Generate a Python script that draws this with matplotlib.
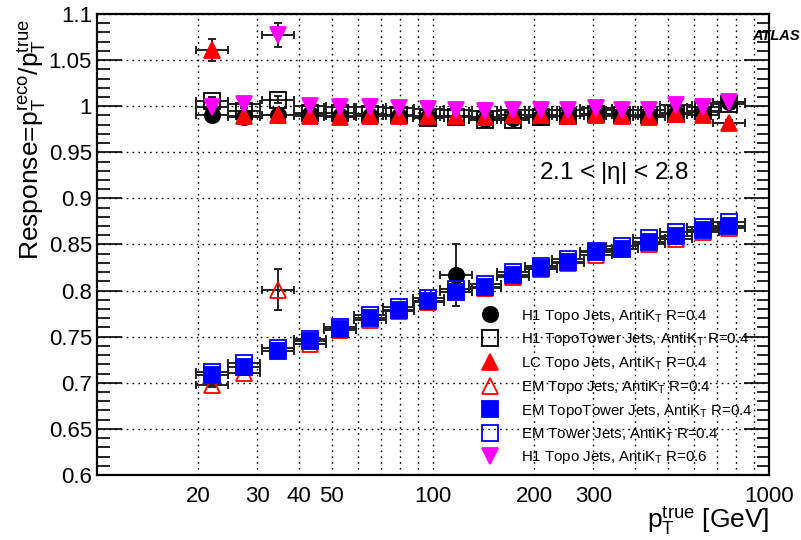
import numpy as np
import matplotlib
matplotlib.use("Agg")
import matplotlib.pyplot as plt
from matplotlib.lines import Line2D
from matplotlib.ticker import FixedLocator, NullFormatter, MultipleLocator

plt.rcParams['font.family'] = ['Liberation Sans', 'DejaVu Sans']
plt.rcParams['mathtext.fontset'] = 'custom'
plt.rcParams['mathtext.rm'] = 'Liberation Sans'
plt.rcParams['mathtext.it'] = 'Liberation Sans:italic'

# bin centres in pT^true [GeV]
pt = [22, 27.4, 34.6, 43, 53, 65, 79, 97, 117, 143, 173, 210, 252, 306, 365, 440, 529, 636, 760]
bin_ratio = 1.115  # half bin width, multiplicative

h1_topo_04 = [0.990, 0.988, 0.990, 0.991, 0.989, 0.989, 0.989, 0.988, 0.817, 0.986,
              0.987, 0.988, 0.989, 0.991, 0.990, 0.990, 0.993, 0.994, 1.004]
h1_topo_04_err = [0.003, 0.003, 0.003, 0.002, 0.002, 0.002, 0.002, 0.002, 0.034, 0.002,
                  0.002, 0.002, 0.002, 0.002, 0.002, 0.002, 0.002, 0.002, 0.004]

h1_tt_04 = [1.006, 0.995, 1.007, 0.993, 0.993, 0.992, 0.990, 0.987, 0.988, 0.985,
            0.985, 0.988, 0.989, 0.991, 0.990, 0.990, 0.992, 0.995, 1.002]
h1_tt_04_err = [0.004, 0.003, 0.004, 0.002, 0.002, 0.002, 0.002, 0.002, 0.002, 0.002,
                0.002, 0.002, 0.002, 0.002, 0.002, 0.002, 0.002, 0.002, 0.003]

lc_topo_04 = [1.061, 0.989, 0.990, 0.989, 0.988, 0.989, 0.989, 0.989, 0.989, 0.988,
              0.990, 0.990, 0.989, 0.990, 0.989, 0.988, 0.991, 0.990, 0.982]
lc_topo_04_err = [0.012, 0.003, 0.003, 0.002, 0.002, 0.002, 0.002, 0.002, 0.002, 0.002,
                  0.002, 0.002, 0.002, 0.002, 0.002, 0.002, 0.002, 0.002, 0.003]

em_topo_04 = [0.698, 0.711, 0.801, 0.742, 0.757, 0.768, 0.778, 0.788, 0.799, 0.803,
              0.815, 0.823, 0.830, 0.839, 0.845, 0.851, 0.856, 0.864, 0.868]
em_topo_04_err = [0.003, 0.003, 0.022, 0.002, 0.002, 0.002, 0.002, 0.002, 0.002, 0.002,
                  0.002, 0.002, 0.002, 0.002, 0.002, 0.002, 0.002, 0.002, 0.002]

em_tt_04 = [0.708, 0.717, 0.734, 0.745, 0.758, 0.770, 0.779, 0.789, 0.799, 0.804,
            0.817, 0.824, 0.831, 0.842, 0.845, 0.853, 0.859, 0.866, 0.870]
em_tt_04_err = [0.003] * 3 + [0.002] * 16

em_tower_04 = [0.712, 0.721, 0.738, 0.748, 0.761, 0.773, 0.782, 0.792, 0.802, 0.807,
               0.820, 0.827, 0.834, 0.843, 0.848, 0.857, 0.863, 0.869, 0.874]
em_tower_04_err = [0.003] * 3 + [0.002] * 16

h1_topo_06 = [0.999, 1.002, 1.077, 1.000, 0.999, 0.999, 0.998, 0.997, 0.996, 0.995,
              0.996, 0.996, 0.996, 0.998, 0.996, 0.996, 1.001, 0.999, 1.005]
h1_topo_06_err = [0.003, 0.003, 0.013, 0.002, 0.002, 0.002, 0.002, 0.002, 0.002, 0.002,
                  0.002, 0.002, 0.002, 0.002, 0.002, 0.002, 0.002, 0.002, 0.003]

labels = [
    r'H1 Topo Jets, AntiK$_\mathrm{T}$ R=0.4',
    r'H1 TopoTower Jets, AntiK$_\mathrm{T}$ R=0.4',
    r'LC Topo Jets, AntiK$_\mathrm{T}$ R=0.4',
    r'EM Topo Jets, AntiK$_\mathrm{T}$ R=0.4',
    r'EM TopoTower Jets, AntiK$_\mathrm{T}$ R=0.4',
    r'EM Tower Jets, AntiK$_\mathrm{T}$ R=0.4',
    r'H1 Topo Jets, AntiK$_\mathrm{T}$ R=0.6',
]
series = [
    (h1_topo_04, h1_topo_04_err, dict(marker='o', mfc='black', mec='black', ms=11)),
    (h1_tt_04, h1_tt_04_err, dict(marker='s', mfc='none', mec='black', ms=11)),
    (lc_topo_04, lc_topo_04_err, dict(marker='^', mfc='red', mec='red', ms=12)),
    (em_topo_04, em_topo_04_err, dict(marker='^', mfc='none', mec='red', ms=12)),
    (em_tt_04, em_tt_04_err, dict(marker='s', mfc='blue', mec='blue', ms=11)),
    (em_tower_04, em_tower_04_err, dict(marker='s', mfc='none', mec='blue', ms=11)),
    (h1_topo_06, h1_topo_06_err, dict(marker='v', mfc='magenta', mec='magenta', ms=12)),
]

x = np.array(pt)
xerr = [x - x / bin_ratio, x * bin_ratio - x]

fig = plt.figure(figsize=(8.01, 5.40), dpi=100)
ax = fig.add_axes([0.121, 0.1204, 0.839, 0.8537])

handles = []
for i, (vals, errs, st) in enumerate(series):
    # error bars under all markers
    ax.errorbar(x, vals, yerr=errs, xerr=xerr, fmt='none', ecolor='#222222',
                elinewidth=1.4, capsize=3, capthick=1.4, zorder=2)
    ax.plot(x, vals, ls='none', mew=1.3, zorder=3 + i, **st)
    handles.append(Line2D([], [], ls='none', mew=1.3, **st))

ax.set_xscale('log')
ax.set_xlim(10, 1000)
ax.set_ylim(0.6, 1.1)

xt = [20, 30, 40, 50, 100, 200, 300, 1000]
ax.xaxis.set_major_locator(FixedLocator(xt))
ax.set_xticklabels([str(v) for v in xt])
ax.xaxis.set_minor_locator(FixedLocator([60, 70, 80, 90, 400, 500, 600, 700, 800, 900]))
ax.xaxis.set_minor_formatter(NullFormatter())
ax.yaxis.set_major_locator(MultipleLocator(0.05))
ax.yaxis.set_minor_locator(MultipleLocator(0.01))
ax.set_yticklabels(['%g' % round(v, 2) for v in ax.get_yticks()])

ax.tick_params(axis='both', which='both', direction='in', labelsize=16)
ax.tick_params(axis='y', which='major', length=18, width=1.2, right=True)
ax.tick_params(axis='y', which='minor', length=9, width=1.2, right=True)
ax.tick_params(axis='x', which='both', length=0, pad=8)
ax.grid(True, which='both', axis='x', color='black', ls=(0, (1.2, 3)), lw=1)
ax.grid(True, which='major', axis='y', color='black', ls=(0, (1.2, 3)), lw=1)
for s in ax.spines.values():
    s.set_linewidth(1.6)

fig.text(0.040, 0.965, r'Response=p$_\mathrm{T}^\mathrm{reco}$/p$_\mathrm{T}^\mathrm{true}$',
         fontsize=19, rotation=90, ha='center', va='top')
fig.text(0.960, 0.006, r'p$_\mathrm{T}^\mathrm{true}$ [GeV]', fontsize=19,
         ha='right', va='bottom')

ax.text(0.975, 0.952, 'ATLAS', transform=ax.transAxes, fontsize=10.5,
        fontweight='bold', fontstyle='italic', ha='left', va='center')
ax.text(0.658, 0.655, r'2.1 < |$\mathrm{\eta}$| < 2.8', transform=ax.transAxes,
        fontsize=17.5, ha='left', va='center')

ax.legend(handles, labels, loc='upper left', bbox_to_anchor=(0.553, 0.378),
          frameon=False, fontsize=10.8, handletextpad=1.1, labelspacing=0.38,
          borderaxespad=0)

fig.savefig('out.png', dpi=100)
